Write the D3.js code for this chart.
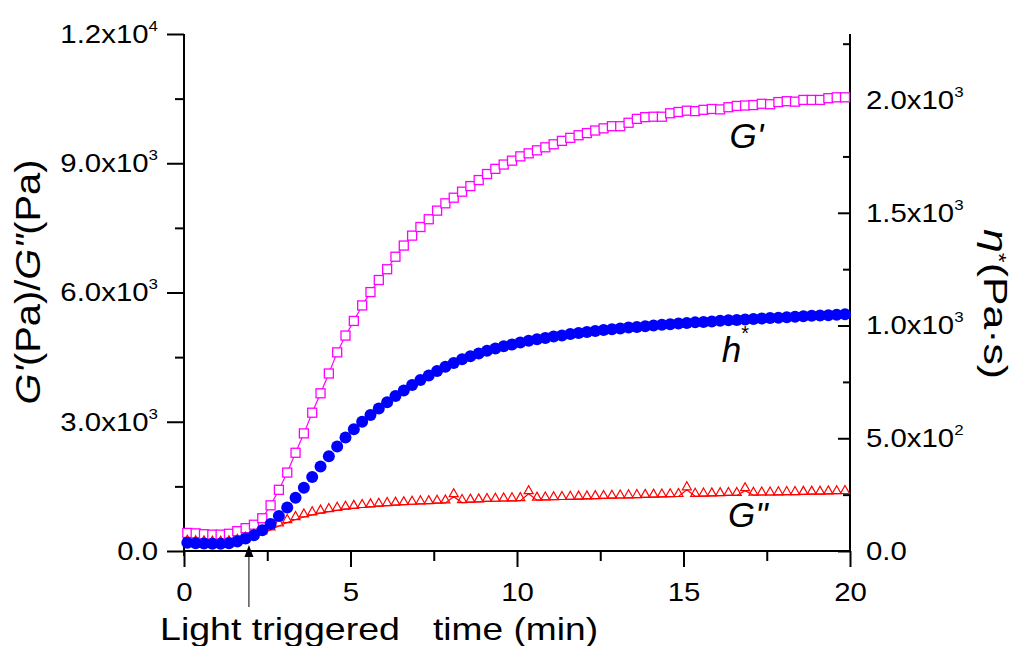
<!DOCTYPE html>
<html>
<head>
<meta charset="utf-8">
<script src="https://cdn.jsdelivr.net/npm/d3@7/dist/d3.min.js"></script>
<style>
  body { margin: 0; background: #ffffff; }
  svg { display: block; }
</style>
</head>
<body>
<div id="chart"></div>
<script>
// time (min)
const times = [
  0.1, 0.35, 0.6, 0.85, 1.1, 1.35, 1.6, 1.85, 2.1, 2.35,
  2.6, 2.85, 3.1, 3.35, 3.6, 3.85, 4.1, 4.35, 4.6, 4.85,
  5.1, 5.35, 5.6, 5.85, 6.1, 6.35, 6.6, 6.85, 7.1, 7.35,
  7.6, 7.85, 8.1, 8.35, 8.6, 8.85, 9.1, 9.35, 9.6, 9.85,
  10.1, 10.35, 10.6, 10.85, 11.1, 11.35, 11.6, 11.85, 12.1, 12.35,
  12.6, 12.85, 13.1, 13.35, 13.6, 13.85, 14.1, 14.35, 14.6, 14.85,
  15.1, 15.35, 15.6, 15.85, 16.1, 16.35, 16.6, 16.85, 17.1, 17.35,
  17.6, 17.85, 18.1, 18.35, 18.6, 18.85, 19.1, 19.35, 19.6, 19.85
];

// G' (Pa)
const storageModulus = [
  420, 410, 390, 380, 380, 400, 460, 530, 610, 760,
  1060, 1420, 1820, 2280, 2730, 3210, 3660, 4120, 4610, 5000,
  5340, 5700, 6010, 6290, 6540, 6830, 7090, 7320, 7520, 7700,
  7900, 8070, 8200, 8340, 8470, 8610, 8750, 8870, 8970, 9060,
  9160, 9230, 9300, 9370, 9440, 9520, 9590, 9650, 9700, 9760,
  9810, 9860, 9860, 9940, 10030, 10070, 10080, 10080, 10160, 10190,
  10220, 10210, 10240, 10260, 10250, 10300, 10330, 10340, 10350, 10380,
  10370, 10420, 10440, 10430, 10470, 10470, 10470, 10510, 10530, 10530
];

// G'' (Pa)
const lossModulus = [
  180, 170, 165, 160, 160, 170, 200, 250, 320, 400,
  490, 580, 660, 730, 790, 840, 880, 915, 945, 970,
  990, 1010, 1025, 1040, 1055, 1065, 1075, 1085, 1095, 1100,
  1110, 1115, 1260, 1125, 1135, 1140, 1150, 1155, 1160, 1165,
  1170, 1330, 1180, 1185, 1190, 1195, 1200, 1205, 1210, 1215,
  1220, 1225, 1230, 1235, 1240, 1245, 1250, 1255, 1260, 1265,
  1420, 1270, 1275, 1280, 1285, 1290, 1290, 1400, 1295, 1300,
  1300, 1305, 1310, 1310, 1315, 1320, 1320, 1325, 1330, 1335
];

// eta* (Pa.s), right axis
const complexViscosity = [
  37, 34, 33, 32, 32, 34, 42, 55, 70, 92,
  120, 155, 193, 236, 281, 328, 375, 420, 463, 503,
  540, 573, 603, 632, 660, 687, 712, 736, 758, 778,
  798, 817, 834, 850, 864, 876, 888, 898, 908, 916,
  925, 932, 939, 945, 951, 956, 962, 967, 971, 976,
  980, 984, 987, 991, 994, 997, 1000, 1003, 1006, 1009,
  1011, 1014, 1016, 1018, 1021, 1023, 1025, 1027, 1029, 1031,
  1033, 1035, 1037, 1039, 1041, 1043, 1045, 1046, 1048, 1050
];

const xTicks = [0, 5, 10, 15, 20];
const xMinorTicks = [2.5, 7.5, 12.5, 17.5];
const leftTicks = [0, 3000, 6000, 9000, 12000];
const leftMinorTicks = [1500, 4500, 7500, 10500];
const leftTickMantissa = ["0.0", "3.0x10", "6.0x10", "9.0x10", "1.2x10"];
const leftTickExponent = ["", "3", "3", "3", "4"];
const rightTicks = [0, 500, 1000, 1500, 2000];
const rightMinorTicks = [250, 750, 1250, 1750, 2250];
const rightTickMantissa = ["0.0", "5.0x10", "1.0x10", "1.5x10", "2.0x10"];
const rightTickExponent = ["", "2", "3", "3", "3"];
const triggerTime = 1.95;

const width = 1016;
const height = 646;
const plot = { left: 184, right: 850, top: 34, bottom: 551 };
const font = "'Liberation Sans', Arial, sans-serif";
const stretch = 1.13; // the original lettering is a little wide

const svg = d3.select("#chart").append("svg")
  .attr("width", width)
  .attr("height", height)
  .attr("font-family", font);

const x = d3.scaleLinear().domain([0, 20]).range([plot.left, plot.right]);
const yLeft = d3.scaleLinear().domain([0, 12000]).range([plot.bottom, plot.top]);
const yRight = d3.scaleLinear().domain([0, 2293]).range([plot.bottom, plot.top]);

const points = times.map((t, i) => ({
  t,
  g1: storageModulus[i],
  g2: lossModulus[i],
  eta: complexViscosity[i]
}));

// tick labels like 9.0x10^3, widened a bit
function expLabel(sel, mantissa, exponent) {
  sel.each(function (d, i) {
    const text = d3.select(this);
    const tx = +text.attr("x") || 0;
    text.text(null)
      .attr("x", 0)
      .attr("transform", `translate(${tx},0) scale(${stretch},1)`);
    text.append("tspan").text(mantissa[i]);
    if (exponent[i]) {
      text.append("tspan")
        .attr("font-size", 15)
        .attr("dy", "-12")
        .text(exponent[i]);
    }
  });
}

// axes
const leftAxis = svg.append("g")
  .attr("transform", `translate(${plot.left},0)`)
  .call(d3.axisLeft(yLeft).tickValues(leftTicks).tickSize(17).tickSizeOuter(0).tickPadding(9));
leftAxis.selectAll("text")
  .attr("font-size", 26).attr("font-family", font).attr("fill", "#000")
  .call(expLabel, leftTickMantissa, leftTickExponent);

svg.append("g")
  .attr("transform", `translate(${plot.left},0)`)
  .call(d3.axisLeft(yLeft).tickValues(leftMinorTicks).tickSize(9).tickSizeOuter(0).tickFormat(""));

const rightAxis = svg.append("g")
  .attr("transform", `translate(${plot.right},0)`)
  .call(d3.axisRight(yRight).tickValues(rightTicks).tickSize(-12).tickSizeOuter(0).tickPadding(16));
rightAxis.selectAll("text")
  .attr("font-size", 26).attr("font-family", font).attr("fill", "#000")
  .call(expLabel, rightTickMantissa, rightTickExponent);

svg.append("g")
  .attr("transform", `translate(${plot.right},0)`)
  .call(d3.axisRight(yRight).tickValues(rightMinorTicks).tickSize(-7).tickSizeOuter(0).tickFormat(""));

const bottomAxis = svg.append("g")
  .attr("transform", `translate(0,${plot.bottom})`)
  .call(d3.axisBottom(x).tickValues(xTicks).tickSize(16).tickSizeOuter(0).tickPadding(16).tickFormat(d3.format("d")));
bottomAxis.selectAll("text")
  .attr("font-size", 26).attr("font-family", font).attr("fill", "#000")
  .attr("transform", `scale(${stretch},1)`);

svg.append("g")
  .attr("transform", `translate(0,${plot.bottom})`)
  .call(d3.axisBottom(x).tickValues(xMinorTicks).tickSize(10).tickSizeOuter(0).tickFormat(""));

svg.selectAll(".domain").remove();
svg.selectAll(".tick line").attr("stroke", "#000").attr("stroke-width", 2);

// axis lines
const axisLines = [
  [plot.left, plot.top, plot.left, plot.bottom + 5],
  [plot.right, plot.top, plot.right, plot.bottom],
  [plot.left, plot.bottom, plot.right, plot.bottom]
];
svg.append("g").selectAll("line")
  .data(axisLines)
  .join("line")
  .attr("x1", d => d[0]).attr("y1", d => d[1])
  .attr("x2", d => d[2]).attr("y2", d => d[3])
  .attr("stroke", "#000")
  .attr("stroke-width", 2);

// G' : magenta open squares
const lineG1 = d3.line().x(d => x(d.t)).y(d => yLeft(d.g1));
svg.append("path")
  .datum(points)
  .attr("d", lineG1)
  .attr("fill", "none")
  .attr("stroke", "#ff00ff")
  .attr("stroke-width", 1.2);
svg.append("g").selectAll("rect")
  .data(points)
  .join("rect")
  .attr("x", d => x(d.t) - 4.5)
  .attr("y", d => yLeft(d.g1) - 4.5)
  .attr("width", 9)
  .attr("height", 9)
  .attr("fill", "#fff")
  .attr("stroke", "#ff00ff")
  .attr("stroke-width", 1.3);

// G'' : red open triangles sitting on the line
const lineG2 = d3.line().x(d => x(d.t)).y(d => yLeft(d.g2));
svg.append("path")
  .datum(points)
  .attr("d", lineG2)
  .attr("fill", "none")
  .attr("stroke", "#ff0000")
  .attr("stroke-width", 1.2);
svg.append("g").selectAll("path")
  .data(points)
  .join("path")
  .attr("transform", d => `translate(${x(d.t)},${yLeft(d.g2)})`)
  .attr("d", "M0,-8L4.5,0L-4.5,0Z")
  .attr("fill", "none")
  .attr("stroke", "#ff0000")
  .attr("stroke-width", 1.2);

// eta* : blue filled circles
svg.append("g").selectAll("circle")
  .data(points)
  .join("circle")
  .attr("cx", d => x(d.t))
  .attr("cy", d => yRight(d.eta))
  .attr("r", 6)
  .attr("fill", "#0000ff");

// in-plot labels
svg.append("text")
  .attr("x", x(16.38)).attr("y", yLeft(9360))
  .attr("font-size", 35)
  .attr("font-style", "italic")
  .text("G'");

const etaLabel = svg.append("text")
  .attr("x", x(16.15)).attr("y", yRight(840))
  .attr("font-size", 35);
etaLabel.append("tspan").attr("font-style", "italic").text("h");
etaLabel.append("tspan").attr("font-size", 20).attr("dy", -22).text("*");

svg.append("text")
  .attr("x", x(16.34)).attr("y", yLeft(560))
  .attr("font-size", 35)
  .attr("font-style", "italic")
  .text("G\"");

// axis titles
const leftTitle = svg.append("g")
  .attr("transform", `translate(40,282) scale(1.08,1) rotate(-90)`)
  .append("text")
  .attr("text-anchor", "middle")
  .attr("font-size", 33)
  .attr("textLength", 245)
  .attr("lengthAdjust", "spacingAndGlyphs");
leftTitle.append("tspan").attr("font-style", "italic").text("G'");
leftTitle.append("tspan").text("(Pa)/");
leftTitle.append("tspan").attr("font-style", "italic").text("G\"");
leftTitle.append("tspan").text("(Pa)");

const rightTitle = svg.append("g")
  .attr("transform", `translate(984,304) scale(1.04,1) rotate(90)`)
  .append("text")
  .attr("text-anchor", "middle")
  .attr("font-size", 32)
  .attr("textLength", 150)
  .attr("lengthAdjust", "spacingAndGlyphs");
rightTitle.append("tspan").attr("font-style", "italic").text("\u03b7");
rightTitle.append("tspan").attr("font-size", 19).attr("dy", -8).text("*");
rightTitle.append("tspan").attr("dy", 8).text("(Pa\u00b7s)");

svg.append("text")
  .attr("x", 160).attr("y", 640)
  .attr("font-size", 32)
  .attr("textLength", 240)
  .attr("lengthAdjust", "spacingAndGlyphs")
  .text("Light triggered");

svg.append("text")
  .attr("x", 433).attr("y", 640)
  .attr("font-size", 32)
  .attr("textLength", 165)
  .attr("lengthAdjust", "spacingAndGlyphs")
  .text("time (min)");

// light trigger arrow
const ax = x(triggerTime);
svg.append("line")
  .attr("x1", ax).attr("y1", 607)
  .attr("x2", ax).attr("y2", 552)
  .attr("stroke", "#000")
  .attr("stroke-width", 1);
svg.append("path")
  .attr("transform", `translate(${ax},${plot.bottom - 6})`)
  .attr("d", "M0,0L4.5,12L-4.5,12Z")
  .attr("fill", "#000");
</script>
</body>
</html>
